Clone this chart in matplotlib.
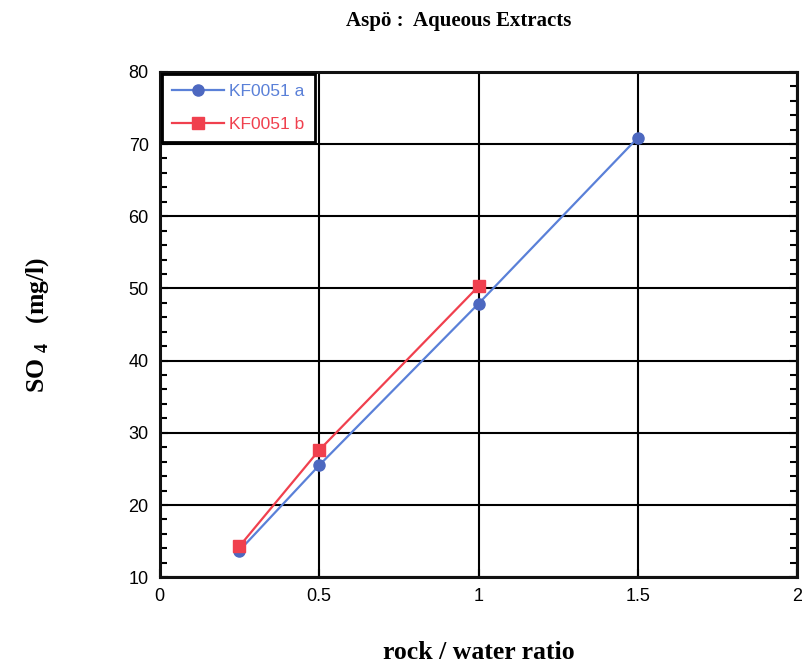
import matplotlib
matplotlib.use('Agg')
import matplotlib.pyplot as plt
from matplotlib.ticker import MultipleLocator

# data
ratio_a = [0.25, 0.5, 1.0, 1.5]
so4_a = [13.7, 25.5, 47.9, 70.9]
ratio_b = [0.25, 0.5, 1.0]
so4_b = [14.3, 27.6, 50.3]
labels = ['KF0051 a', 'KF0051 b']

BLUE_LINE = '#5a80d8'
BLUE_MARK = '#4d68c0'
RED = '#f0404e'

plt.rcParams['mathtext.fontset'] = 'custom'
plt.rcParams['mathtext.rm'] = 'Liberation Serif:bold'

fig = plt.figure(figsize=(8.03, 6.65), dpi=100)
ax = fig.add_axes([0.199, 0.132, 0.794, 0.760])

ax.plot(ratio_a, so4_a, '-', color=BLUE_LINE, lw=1.6, marker='o', ms=8,
        mfc=BLUE_MARK, mec=BLUE_MARK, label=labels[0], zorder=3)
ax.plot(ratio_b, so4_b, '-', color=RED, lw=1.6, marker='s', ms=8,
        mfc=RED, mec=RED, label=labels[1], zorder=3)

ax.set_xlim(0, 2)
ax.set_ylim(10, 80)
ax.yaxis.set_major_locator(MultipleLocator(10))
ax.yaxis.set_minor_locator(MultipleLocator(2))
ax.set_xticks([0, 0.5, 1, 1.5, 2])
ax.set_xticklabels(['0', '0.5', '1', '1.5', '2'])

ax.grid(True, which='major', color='black', lw=1.5)
ax.set_axisbelow(True)
for spine in ax.spines.values():
    spine.set_linewidth(2.2)
    spine.set_color('#111111')

ax.tick_params(which='both', direction='in', right=True, top=False,
               labelsize=13, pad=8)
ax.tick_params(which='major', length=6, width=1.5)
ax.tick_params(which='minor', length=5, width=1.5)
for lbl in ax.get_xticklabels() + ax.get_yticklabels():
    lbl.set_fontfamily('Liberation Sans')

ax.set_xlabel('rock / water ratio', family='Liberation Serif', weight='bold',
              fontsize=18.5, labelpad=26)
ax.set_ylabel(r'SO$_{\ 4}$   (mg/l)', family='Liberation Serif', weight='bold',
              fontsize=18.5, labelpad=56)
fig.text(0.571, 0.984, 'Aspö :  Aqueous Extracts', family='Liberation Serif',
         weight='bold', fontsize=15, ha='center', va='top')

leg = ax.legend(loc='upper left', frameon=True, fancybox=False,
                borderaxespad=0.1, handlelength=3.0, borderpad=0.6,
                labelspacing=1.0, handletextpad=0.3,
                prop={'family': 'Liberation Sans', 'size': 12.5})
leg.get_frame().set_edgecolor('black')
leg.get_frame().set_linewidth(2)
leg.get_frame().set_alpha(1)
for txt, c in zip(leg.get_texts(), [BLUE_LINE, RED]):
    txt.set_color(c)

fig.savefig('out.png', dpi=100)
